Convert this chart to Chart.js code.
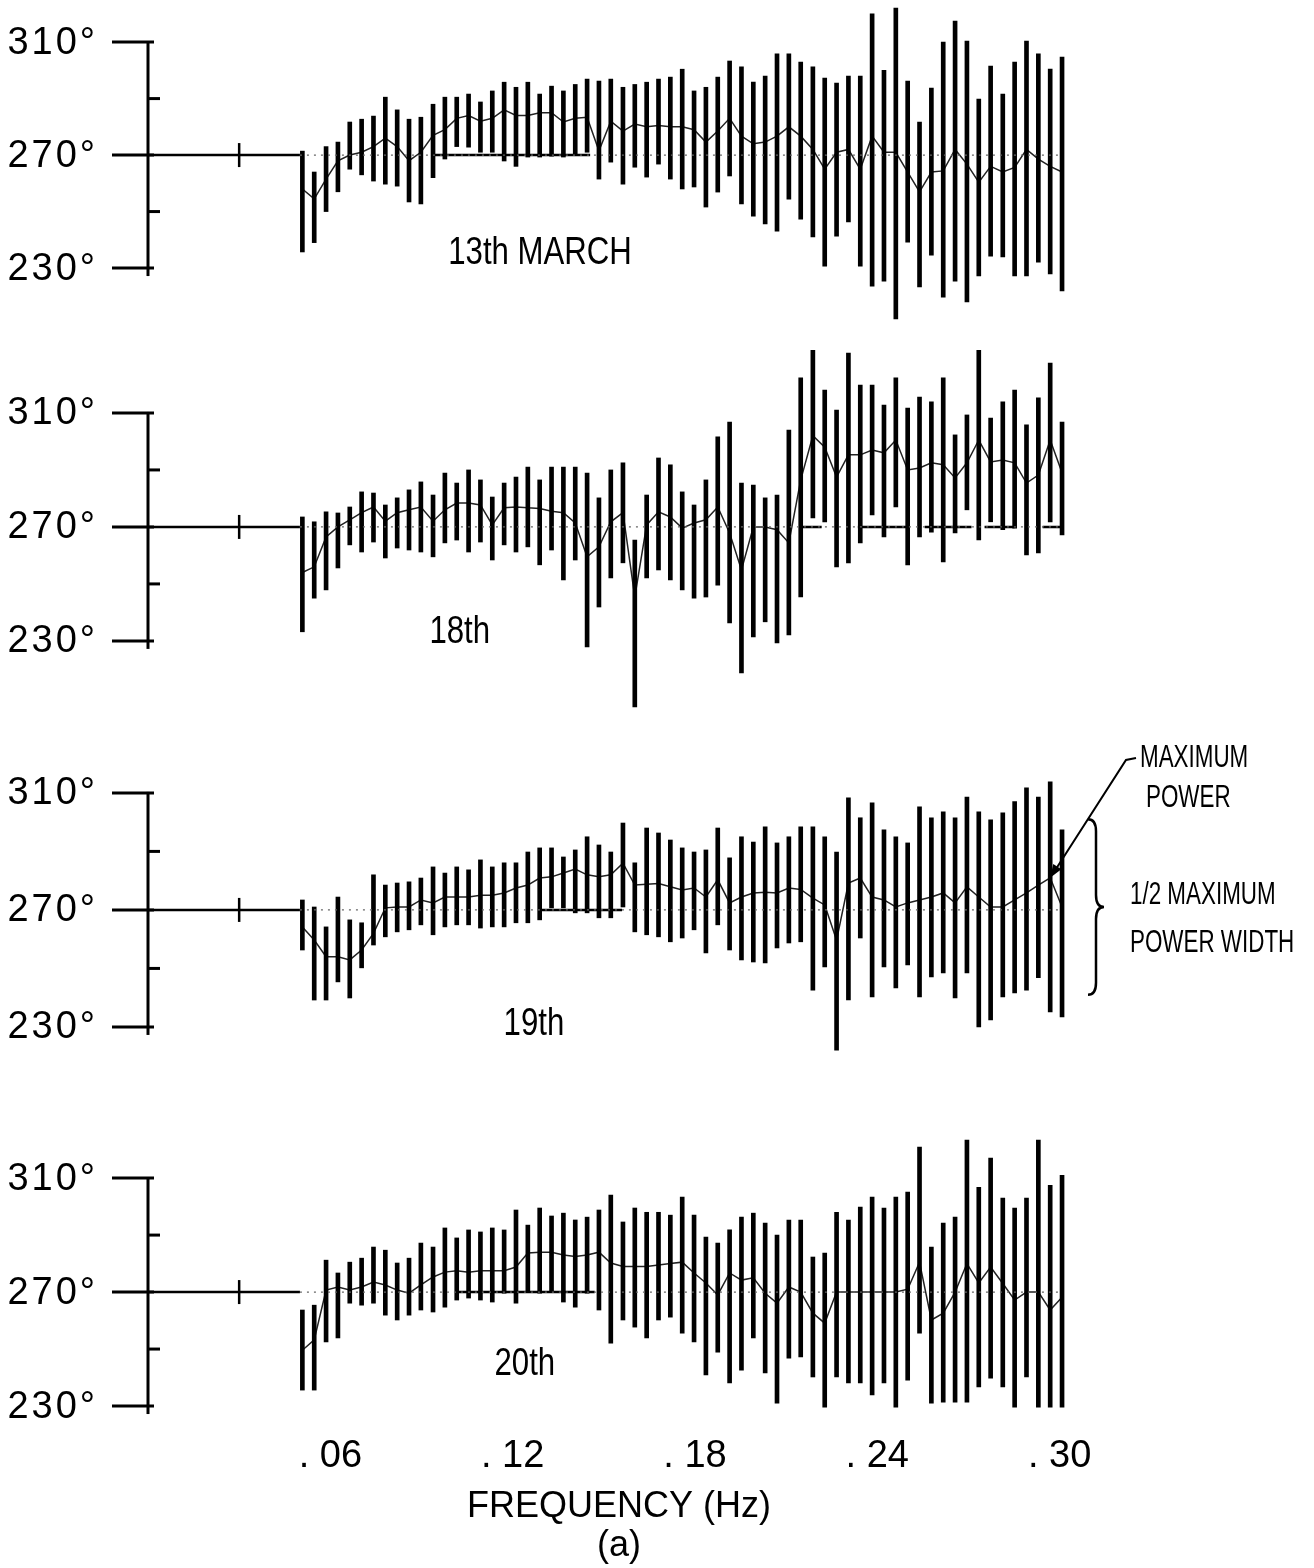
<!DOCTYPE html>
<html>
<head>
<meta charset="utf-8">
<title>Wave direction spread vs frequency</title>
<script src="https://cdn.jsdelivr.net/npm/chart.js@4.4.1/dist/chart.umd.min.js"></script>
<style>
  html, body { margin: 0; padding: 0; background: #fff; }
  body { position: relative; width: 1314px; height: 1568px; overflow: hidden; }
  .panel { position: absolute; left: 0; width: 1314px; }
</style>
</head>
<body>
<div class="panel" style="top:0px;height:335px"><canvas id="p1"></canvas></div>
<div class="panel" style="top:340px;height:375px"><canvas id="p2"></canvas></div>
<div class="panel" style="top:730px;height:330px"><canvas id="p3"></canvas></div>
<div class="panel" style="top:1110px;height:458px"><canvas id="p4"></canvas></div>
<script>
// frequency bins (Hz)
const FREQ = [0.0508, 0.0547, 0.0586, 0.0625, 0.0664, 0.0703, 0.0742, 0.0781, 0.0820, 0.0859,
  0.0898, 0.0938, 0.0977, 0.1016, 0.1055, 0.1094, 0.1133, 0.1172, 0.1211, 0.1250,
  0.1289, 0.1328, 0.1367, 0.1406, 0.1445, 0.1484, 0.1523, 0.1563, 0.1602, 0.1641,
  0.1680, 0.1719, 0.1758, 0.1797, 0.1836, 0.1875, 0.1914, 0.1953, 0.1992, 0.2031,
  0.2070, 0.2109, 0.2148, 0.2188, 0.2227, 0.2266, 0.2305, 0.2344, 0.2383, 0.2422,
  0.2461, 0.2500, 0.2539, 0.2578, 0.2617, 0.2656, 0.2695, 0.2734, 0.2773, 0.2813,
  0.2852, 0.2891, 0.2930, 0.2969, 0.3008]

// 13th March
const LO1 = [235.7, 239, 250, 257, 265, 263, 260.8, 259.7, 259, 253.4,
  252.7, 262, 268.6, 273, 272.8, 271, 271, 267.9, 266, 269.3,
  269.3, 269.6, 269.3, 270.3, 271, 261.5, 267.5, 259.7, 265.7, 262.2,
  266.8, 261.5, 258, 258.7, 251.6, 256.9, 262.6, 252.7, 248.4, 245.6,
  243.1, 254.4, 247.3, 241, 230.7, 241.3, 246.3, 230.7, 223.6, 225.4,
  212, 239.2, 223.3, 234.6, 219.7, 225.4, 218, 227.2, 234.2, 233.9,
  227.2, 227.2, 232.1, 227.9, 221.9]
const HI1 = [271.4, 264, 273, 274.6, 281.7, 282.7, 283.8, 290.5, 286, 282.7,
  283.4, 288, 290.5, 290.5, 291.6, 288.8, 292.7, 295.8, 294, 295.8,
  291.6, 294.4, 292.7, 295, 296.9, 296.2, 296.9, 294, 295, 295.8,
  296.9, 297.6, 300.4, 292.7, 294, 297.6, 303.3, 301.2, 295.8, 298,
  305.8, 305.8, 302.9, 301.2, 297.3, 295.5, 298, 298, 320, 300,
  322, 296.2, 281.7, 293.7, 310, 317.4, 310.4, 289.8, 301.5, 291.6,
  302.9, 310.4, 305.8, 300.4, 304.7]
const MEAN1 = [258, 254.5, 261.5, 268, 270, 271, 273, 276, 273, 268,
  271, 277, 279, 283, 284, 282, 283, 286, 284, 284,
  285, 285, 281.7, 283, 283.4, 271.5, 282, 278.5, 281, 280,
  280.5, 280, 280, 279, 274.6, 278.5, 283, 276.7, 274, 274.6,
  276.7, 280, 276.7, 272, 265, 271, 272, 265, 276.7, 271,
  271, 264, 257, 264, 264.4, 272, 266.8, 260.4, 266, 264,
  265.6, 272, 268.6, 266, 264]

// 18th
const LO2 = [233.2, 245, 247.9, 255.6, 263.7, 261.2, 264.7, 259.1, 262.6, 261.9,
  261.2, 259.5, 264.4, 265.4, 261.2, 264.7, 258.4, 263.7, 261.2, 263,
  256.7, 261.9, 251.4, 258.4, 227.9, 241.9, 252.1, 257.4, 206.8, 252.1,
  254.9, 251.4, 247.9, 245, 245.4, 249.6, 236.3, 218.8, 231.4, 236.7,
  229.3, 232.1, 245.4, 273.2, 271.8, 256, 257.4, 264.4, 274.2, 266.5,
  277, 256.7, 266.5, 268.2, 257.7, 267.9, 276, 265.4, 271.8, 269,
  269.6, 260.2, 260.9, 271.8, 267.2]
const HI2 = [273.5, 271.8, 275.3, 274.9, 277, 282.3, 281.9, 277.7, 280.2, 283,
  285.8, 281.2, 288.9, 285.4, 290, 286.5, 280.5, 285.4, 287.5, 291,
  286.5, 291, 291, 291, 288.9, 280.2, 290, 292.5, 265.4, 281.2,
  294.2, 291.8, 282.3, 277.7, 286.5, 301.6, 306.8, 285.4, 284.7, 280.2,
  281.2, 304, 322.3, 332, 318, 311, 331, 319.8, 319.8, 312.8,
  322.3, 311.7, 315.6, 313.9, 322.3, 302.3, 309.3, 332, 308.2, 313.9,
  318, 305.8, 315.3, 327.5, 306.8]
const MEAN2 = [254, 256, 266.5, 270, 272.5, 275, 277, 272, 275, 276,
  277, 272, 276, 278.4, 278.4, 277.7, 270.7, 276.7, 277, 276.7,
  276.5, 275.5, 275, 271.4, 259.5, 263, 271.8, 275, 245.4, 270.7,
  275.3, 273.5, 269.6, 271.4, 272.5, 277, 267.9, 254.9, 270, 270,
  269, 264.4, 286.5, 302, 298, 287.5, 295.3, 295.3, 297, 296,
  300.5, 290, 290.7, 292.5, 291.8, 287.2, 292.5, 300.5, 292.8, 293.5,
  292.5, 285.4, 288.2, 300.5, 289]

// 19th
const LO3 = [256.3, 239.2, 239.2, 245.4, 239.9, 250.2, 258, 260.8, 262.5, 263.2,
  264.9, 261.5, 264.2, 264.9, 264.9, 263.8, 264.2, 264.2, 265.6, 265.6,
  266.6, 270.7, 270.7, 269, 269, 267.3, 267.3, 271, 262.5, 261.5,
  260.8, 259.1, 260.4, 263.2, 255.3, 264.9, 256.3, 252.9, 252.2, 251.9,
  257, 258.7, 259.1, 242.6, 250.5, 222.1, 239.2, 260.4, 240.3, 250.5,
  243.3, 251.2, 240.3, 247.1, 248.5, 239.9, 248.5, 230, 232.4, 240.3,
  241.6, 242.6, 246.8, 235.1, 233.4]
const HI3 = [273.4, 271, 264.2, 274.4, 266.6, 265.6, 282, 278.5, 279.2, 279.6,
  280.9, 284.7, 282.6, 284.7, 283.7, 287.1, 284.7, 286.1, 286.1, 289.8,
  291.2, 291.2, 288.1, 290.5, 295, 292.2, 289.8, 299.7, 286.1, 298,
  296.3, 293.9, 291.2, 289.8, 290.5, 298, 287.8, 295, 293.2, 298.4,
  292.9, 295, 298.4, 298.4, 295, 289.8, 308.3, 301.5, 306.6, 297.4,
  295, 292.9, 305.2, 301.5, 303.5, 301.5, 308.6, 303.5, 300.8, 303.2,
  307, 311.7, 308.6, 313.8, 297.4]
const MEAN3 = [264.2, 259.7, 254, 254, 252.9, 256.3, 262, 270.7, 271, 271,
  273.4, 272.4, 274.4, 274.4, 274.4, 275, 275, 275.8, 277.5, 278.5,
  280.9, 281.3, 282.6, 284, 282, 281.3, 282, 286, 278.5, 278.8,
  279, 277.9, 276.8, 277.5, 274.4, 280.3, 272.4, 274.4, 275.8, 276,
  275.8, 277.5, 277, 274, 271.7, 259.7, 279.2, 280.9, 274.4, 273.4,
  271, 272.4, 273.4, 274.4, 275.8, 272.4, 277.9, 274.4, 271, 271,
  273.4, 275.8, 278.5, 281, 271]

// 20th
const LO4 = [235.6, 235.6, 252.5, 253.9, 266.1, 265.4, 266.1, 261.9, 260.2, 261.9,
  263.7, 263, 264.7, 267.2, 267.9, 267.2, 266.5, 269.6, 266.1, 270,
  269.6, 270, 266.5, 264.7, 269.6, 263.7, 252.1, 260.2, 257.7, 253.9,
  260.2, 261.2, 255.6, 252.5, 240.9, 248.9, 238.1, 242.6, 253.9, 241.6,
  231, 246.8, 247.2, 240.2, 229.6, 240.2, 238.1, 238.1, 233.9, 238.1,
  229.6, 239.1, 255.6, 231, 231.4, 231.4, 231.4, 236.7, 239.8, 236.7,
  229.6, 240.2, 229.6, 229.6, 229.6]
const HI4 = [263.7, 265.4, 281.2, 276.7, 280.5, 281.9, 285.8, 284.7, 280.2, 281.9,
  287.2, 285.8, 292.5, 289, 291.8, 291.1, 292.5, 291.8, 298.8, 293.5,
  299.5, 296.7, 297.7, 295.3, 296.3, 298.8, 304, 294.6, 299.5, 298,
  298, 297, 303.3, 297, 289.3, 287.2, 291.8, 296.3, 297.7, 294.2,
  290, 295.3, 295.3, 282.3, 283.7, 298, 295.3, 299.8, 303.3, 299.5,
  303.3, 305.1, 320.9, 285.8, 294.2, 296.3, 323.3, 306.8, 317, 303,
  299.5, 303, 323.3, 307.5, 311]
const MEAN4 = [249.6, 253.2, 270.7, 271.8, 270.7, 271.8, 273.5, 272.5, 270.7, 269.6,
  272.5, 275.3, 277, 277.5, 277, 277.5, 277.5, 277.5, 278.8, 283.7,
  284, 284, 283, 282.5, 283, 284, 280.2, 279, 279, 279,
  279.5, 280, 280.5, 276.7, 273.2, 269, 276.7, 274.2, 275, 269.6,
  266.1, 271.8, 270, 262.6, 259.1, 270, 270, 270, 270, 270,
  270, 271, 280.5, 260.2, 262.6, 270, 280, 273.2, 278.8, 273,
  267.2, 270, 270, 263.7, 268.2]

// solid stretches of the 270 degree reference line, [from, to] in Hz
const REF1 = [[0, 0.05], [0.094, 0.1455]]
const REF2 = [[0, 0.05], [0.2145, 0.2217], [0.2336, 0.2497], [0.2556, 0.271], [0.2753, 0.2852], [0.2944, 0.301]]
const REF3 = [[0, 0.05], [0.129, 0.156]]
const REF4 = [[0, 0.05], [0.1016, 0.147]]

const Y_TICKS = [230, 250, 270, 290, 310]
const Y_LABELS = ['230°', '', '270°', '', '310°']
const X_TICKS = [0.06, 0.12, 0.18, 0.24, 0.30]
const X_LABELS = ['. 06', '. 12', '. 18', '. 24', '. 30']
const AXIS_MARK = [0.03]
const DAYS = ['13th MARCH', '18th', '19th', '20th']

const FONT = "'Liberation Sans', 'Noto Sans', sans-serif"
Chart.defaults.font.family = FONT
Chart.defaults.color = '#000'

// narrow lettering: squeeze the text horizontally
function squeezeText(ctx, text, x, y, sx) {
  ctx.save()
  ctx.translate(x, y)
  ctx.scale(sx, 1)
  ctx.fillText(text, 0, 0)
  ctx.restore()
}

const panelDecor = {
  id: 'panelDecor',
  afterDatasetsDraw(chart, args, opts) {
    const { ctx } = chart
    const xs = chart.scales.x
    const ys = chart.scales.y
    const x0 = xs.getPixelForValue(0)
    ctx.save()
    ctx.strokeStyle = '#000'
    ctx.fillStyle = '#000'
    ctx.lineWidth = 3
    ctx.lineCap = 'butt'

    // vertical axis, 230..310 only
    ctx.beginPath()
    ctx.moveTo(x0, ys.getPixelForValue(310) - 1)
    ctx.lineTo(x0, ys.getPixelForValue(230) + 8)
    ctx.stroke()

    ctx.font = '38px ' + FONT
    ctx.textAlign = 'right'
    ctx.textBaseline = 'middle'
    ctx.letterSpacing = '3px'
    Y_TICKS.forEach((v, i) => {
      const py = ys.getPixelForValue(v)
      ctx.beginPath()
      if (Y_LABELS[i]) {
        ctx.moveTo(x0 - 36, py)
        ctx.lineTo(x0 + 6, py)
      } else {
        ctx.moveTo(x0, py)
        ctx.lineTo(x0 + 12, py)
      }
      ctx.stroke()
      if (Y_LABELS[i]) ctx.fillText(Y_LABELS[i], 98, py + 1)
    })
    ctx.letterSpacing = '0px'

    // day label
    ctx.font = '38px ' + FONT
    ctx.textAlign = 'center'
    squeezeText(ctx, opts.day, xs.getPixelForValue(opts.dayAt[0]), ys.getPixelForValue(opts.dayAt[1]), 0.82)

    if (opts.note) {
      const tipX = xs.getPixelForValue(FREQ[63])
      const tipY = ys.getPixelForValue(MEAN3[63])
      ctx.lineWidth = 2
      ctx.beginPath()
      ctx.moveTo(1136, 28)
      ctx.lineTo(1126, 30)
      ctx.lineTo(tipX + 4, tipY - 6)
      ctx.stroke()
      const ang = Math.atan2(tipY - 30, tipX - 1126)
      ctx.beginPath()
      ctx.moveTo(tipX, tipY)
      ctx.lineTo(tipX - 14 * Math.cos(ang - 0.35), tipY - 14 * Math.sin(ang - 0.35))
      ctx.lineTo(tipX - 14 * Math.cos(ang + 0.35), tipY - 14 * Math.sin(ang + 0.35))
      ctx.closePath()
      ctx.fill()

      // brace for half-power width
      const bx = 1088
      const yt = ys.getPixelForValue(301)
      const yb = ys.getPixelForValue(241)
      const ym = (yt + yb) / 2
      ctx.lineWidth = 2.5
      ctx.beginPath()
      ctx.moveTo(bx, yt)
      ctx.quadraticCurveTo(bx + 8, yt, bx + 8, yt + 12)
      ctx.lineTo(bx + 8, ym - 12)
      ctx.quadraticCurveTo(bx + 8, ym, bx + 16, ym)
      ctx.quadraticCurveTo(bx + 8, ym, bx + 8, ym + 12)
      ctx.lineTo(bx + 8, yb - 12)
      ctx.quadraticCurveTo(bx + 8, yb, bx, yb)
      ctx.stroke()

      ctx.font = '32px ' + FONT
      ctx.textAlign = 'left'
      squeezeText(ctx, 'MAXIMUM', 1140, 28, 0.7)
      squeezeText(ctx, 'POWER', 1146, 68, 0.7)
      squeezeText(ctx, '1/2 MAXIMUM', 1130, ym - 12, 0.7)
      squeezeText(ctx, 'POWER WIDTH', 1130, ym + 36, 0.7)
    }
    ctx.restore()
  }
}

function refSegments(segs) {
  const pts = []
  segs.forEach(([a, b]) => {
    pts.push({ x: a, y: 270 }, { x: b, y: 270 }, { x: b, y: null })
  })
  return pts
}

function buildPanel(id, cfg) {
  const canvas = document.getElementById(id)
  const showX = !!cfg.showX
  const xAxis = {
    type: 'linear',
    min: 0,
    max: 0.31,
    offset: false,
    display: showX,
    grid: { display: false, drawTicks: false },
    border: { display: false },
    afterBuildTicks: (scale) => { scale.ticks = X_TICKS.map(v => ({ value: v })) },
    ticks: {
      autoSkip: false,
      maxRotation: 0,
      padding: 14,
      font: { size: 38 },
      callback: (v, i) => X_LABELS[i]
    },
    title: {
      display: showX,
      text: ['FREQUENCY (Hz)', '(a)'],
      font: { size: 36, lineHeight: 1.1 },
      padding: { top: 0, bottom: 2 }
    }
  }
  if (showX) {
    xAxis.afterFit = (scale) => { scale.height = 148 }
  }

  new Chart(canvas, {
    type: 'bar',
    data: {
      datasets: [
        {
          type: 'line',
          data: [{ x: 0.05, y: 270 }, { x: 0.30, y: 270 }],
          borderColor: '#666',
          borderWidth: 1.2,
          borderDash: [2, 5],
          pointRadius: 0
        },
        {
          type: 'line',
          data: refSegments(cfg.ref),
          borderColor: '#000',
          borderWidth: 2.5,
          pointRadius: 0,
          spanGaps: false
        },
        {
          type: 'scatter',
          data: AXIS_MARK.map(f => ({ x: f, y: 270 })),
          pointStyle: 'line',
          rotation: 90,
          pointRadius: 12,
          borderWidth: 2.5,
          borderColor: '#000'
        },
        {
          type: 'bar',
          data: FREQ.map((f, i) => ({ x: f, y: [cfg.lo[i], cfg.hi[i]] })),
          backgroundColor: '#000',
          barThickness: 4,
          grouped: false
        },
        {
          type: 'line',
          data: FREQ.map((f, i) => ({ x: f, y: cfg.mean[i] })),
          borderColor: '#222',
          borderWidth: 1.5,
          pointRadius: 0,
          tension: 0
        }
      ]
    },
    options: {
      responsive: true,
      maintainAspectRatio: false,
      animation: false,
      events: [],
      layout: { autoPadding: false, padding: { left: 0, right: 224, top: 0, bottom: 0 } },
      plugins: {
        legend: { display: false },
        tooltip: { enabled: false },
        panelDecor: { day: cfg.day, dayAt: cfg.dayAt, note: !!cfg.note }
      },
      scales: {
        x: xAxis,
        y: {
          min: cfg.min,
          max: cfg.max,
          grid: { display: false, drawTicks: false },
          border: { display: false },
          ticks: { display: false },
          afterFit: (scale) => { scale.width = 148 }
        }
      }
    },
    plugins: [panelDecor]
  })
}

buildPanel('p1', { lo: LO1, hi: HI1, mean: MEAN1, ref: REF1, min: 206.3, max: 324.9, day: DAYS[0], dayAt: [0.129, 235] })
buildPanel('p2', { lo: LO2, hi: HI2, mean: MEAN2, ref: REF2, min: 204.0, max: 335.6, day: DAYS[1], dayAt: [0.1026, 232.8] })
buildPanel('p3', { lo: LO3, hi: HI3, mean: MEAN3, ref: REF3, min: 218.7, max: 331.5, day: DAYS[2], dayAt: [0.127, 230.7], note: true })
buildPanel('p4', { lo: LO4, hi: HI4, mean: MEAN4, ref: REF4, min: 225.1, max: 333.9, day: DAYS[3], dayAt: [0.124, 244.4], showX: true })
</script>
</body>
</html>
